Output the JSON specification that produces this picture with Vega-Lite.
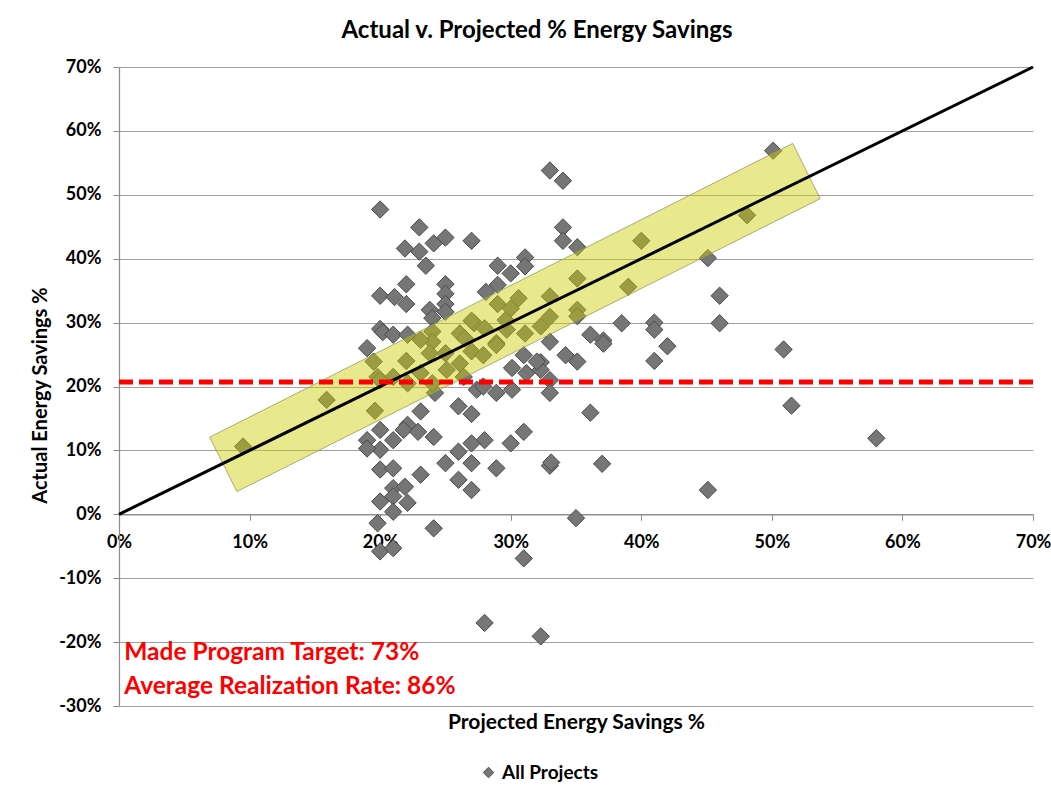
{
  "$schema": "https://vega.github.io/schema/vega-lite/v6.json",
  "width": 914,
  "height": 639,
  "autosize": {"type": "none"},
  "padding": {"left": 119, "top": 67, "right": 18, "bottom": 86},
  "background": "white",
  "config": {"font": "Lato", "view": {"stroke": null}},
  "title": {"text": "Actual v. Projected % Energy Savings", "fontSize": 24, "fontWeight": "bold", "color": "#000000", "dx": -39, "offset": 15, "font": "Lato"},
  "datasets": {
    "projects": [
      {"projected": 33.0, "actual": 53.8, "series": "All Projects"},
      {"projected": 34.0, "actual": 52.2, "series": "All Projects"},
      {"projected": 50.1, "actual": 56.9, "series": "All Projects"},
      {"projected": 48.1, "actual": 46.8, "series": "All Projects"},
      {"projected": 20.0, "actual": 47.7, "series": "All Projects"},
      {"projected": 34.0, "actual": 44.9, "series": "All Projects"},
      {"projected": 34.0, "actual": 42.8, "series": "All Projects"},
      {"projected": 35.1, "actual": 41.8, "series": "All Projects"},
      {"projected": 23.0, "actual": 44.9, "series": "All Projects"},
      {"projected": 21.9, "actual": 41.6, "series": "All Projects"},
      {"projected": 23.0, "actual": 41.1, "series": "All Projects"},
      {"projected": 24.1, "actual": 42.4, "series": "All Projects"},
      {"projected": 25.0, "actual": 43.3, "series": "All Projects"},
      {"projected": 27.0, "actual": 42.8, "series": "All Projects"},
      {"projected": 23.5, "actual": 38.9, "series": "All Projects"},
      {"projected": 29.0, "actual": 38.9, "series": "All Projects"},
      {"projected": 30.0, "actual": 37.7, "series": "All Projects"},
      {"projected": 31.1, "actual": 40.2, "series": "All Projects"},
      {"projected": 31.1, "actual": 38.8, "series": "All Projects"},
      {"projected": 20.0, "actual": 34.2, "series": "All Projects"},
      {"projected": 21.1, "actual": 34.0, "series": "All Projects"},
      {"projected": 22.0, "actual": 36.0, "series": "All Projects"},
      {"projected": 22.0, "actual": 32.9, "series": "All Projects"},
      {"projected": 25.0, "actual": 36.0, "series": "All Projects"},
      {"projected": 25.0, "actual": 34.5, "series": "All Projects"},
      {"projected": 25.0, "actual": 32.9, "series": "All Projects"},
      {"projected": 25.0, "actual": 31.7, "series": "All Projects"},
      {"projected": 23.8, "actual": 32.0, "series": "All Projects"},
      {"projected": 24.0, "actual": 30.7, "series": "All Projects"},
      {"projected": 28.1, "actual": 34.8, "series": "All Projects"},
      {"projected": 29.0, "actual": 35.9, "series": "All Projects"},
      {"projected": 29.0, "actual": 32.9, "series": "All Projects"},
      {"projected": 30.0, "actual": 32.2, "series": "All Projects"},
      {"projected": 33.0, "actual": 34.1, "series": "All Projects"},
      {"projected": 33.0, "actual": 30.9, "series": "All Projects"},
      {"projected": 20.0, "actual": 29.0, "series": "All Projects"},
      {"projected": 20.2, "actual": 28.5, "series": "All Projects"},
      {"projected": 21.0, "actual": 28.1, "series": "All Projects"},
      {"projected": 22.1, "actual": 28.1, "series": "All Projects"},
      {"projected": 24.0, "actual": 28.6, "series": "All Projects"},
      {"projected": 24.0, "actual": 27.0, "series": "All Projects"},
      {"projected": 26.1, "actual": 28.3, "series": "All Projects"},
      {"projected": 27.2, "actual": 29.9, "series": "All Projects"},
      {"projected": 28.0, "actual": 29.1, "series": "All Projects"},
      {"projected": 28.9, "actual": 26.8, "series": "All Projects"},
      {"projected": 31.1, "actual": 28.3, "series": "All Projects"},
      {"projected": 32.3, "actual": 29.4, "series": "All Projects"},
      {"projected": 33.0, "actual": 27.0, "series": "All Projects"},
      {"projected": 23.1, "actual": 27.3, "series": "All Projects"},
      {"projected": 29.7, "actual": 28.9, "series": "All Projects"},
      {"projected": 40.0, "actual": 42.8, "series": "All Projects"},
      {"projected": 45.1, "actual": 40.1, "series": "All Projects"},
      {"projected": 35.1, "actual": 36.9, "series": "All Projects"},
      {"projected": 39.0, "actual": 35.6, "series": "All Projects"},
      {"projected": 35.1, "actual": 32.0, "series": "All Projects"},
      {"projected": 35.1, "actual": 31.0, "series": "All Projects"},
      {"projected": 46.0, "actual": 34.2, "series": "All Projects"},
      {"projected": 46.0, "actual": 29.9, "series": "All Projects"},
      {"projected": 38.5, "actual": 29.9, "series": "All Projects"},
      {"projected": 41.0, "actual": 30.0, "series": "All Projects"},
      {"projected": 41.0, "actual": 28.9, "series": "All Projects"},
      {"projected": 36.1, "actual": 28.1, "series": "All Projects"},
      {"projected": 37.1, "actual": 27.2, "series": "All Projects"},
      {"projected": 37.1, "actual": 26.7, "series": "All Projects"},
      {"projected": 42.0, "actual": 26.3, "series": "All Projects"},
      {"projected": 41.0, "actual": 24.0, "series": "All Projects"},
      {"projected": 34.2, "actual": 24.9, "series": "All Projects"},
      {"projected": 35.1, "actual": 23.9, "series": "All Projects"},
      {"projected": 50.9, "actual": 25.8, "series": "All Projects"},
      {"projected": 33.0, "actual": 21.0, "series": "All Projects"},
      {"projected": 33.0, "actual": 19.0, "series": "All Projects"},
      {"projected": 32.3, "actual": 23.8, "series": "All Projects"},
      {"projected": 32.3, "actual": 22.6, "series": "All Projects"},
      {"projected": 36.1, "actual": 15.9, "series": "All Projects"},
      {"projected": 33.0, "actual": 7.6, "series": "All Projects"},
      {"projected": 33.1, "actual": 8.1, "series": "All Projects"},
      {"projected": 37.0, "actual": 7.9, "series": "All Projects"},
      {"projected": 45.1, "actual": 3.8, "series": "All Projects"},
      {"projected": 35.0, "actual": -0.6, "series": "All Projects"},
      {"projected": 32.3, "actual": -19.1, "series": "All Projects"},
      {"projected": 51.5, "actual": 17.0, "series": "All Projects"},
      {"projected": 58.0, "actual": 11.9, "series": "All Projects"},
      {"projected": 31.0, "actual": 24.9, "series": "All Projects"},
      {"projected": 32.0, "actual": 23.9, "series": "All Projects"},
      {"projected": 30.1, "actual": 22.9, "series": "All Projects"},
      {"projected": 31.2, "actual": 22.1, "series": "All Projects"},
      {"projected": 28.9, "actual": 19.0, "series": "All Projects"},
      {"projected": 30.1, "actual": 19.5, "series": "All Projects"},
      {"projected": 27.4, "actual": 19.5, "series": "All Projects"},
      {"projected": 24.2, "actual": 19.0, "series": "All Projects"},
      {"projected": 26.0, "actual": 16.9, "series": "All Projects"},
      {"projected": 27.0, "actual": 15.7, "series": "All Projects"},
      {"projected": 23.1, "actual": 16.1, "series": "All Projects"},
      {"projected": 19.6, "actual": 16.2, "series": "All Projects"},
      {"projected": 22.1, "actual": 14.0, "series": "All Projects"},
      {"projected": 21.8, "actual": 13.2, "series": "All Projects"},
      {"projected": 20.0, "actual": 13.2, "series": "All Projects"},
      {"projected": 22.9, "actual": 12.9, "series": "All Projects"},
      {"projected": 24.1, "actual": 12.1, "series": "All Projects"},
      {"projected": 21.0, "actual": 11.6, "series": "All Projects"},
      {"projected": 19.0, "actual": 11.6, "series": "All Projects"},
      {"projected": 20.0, "actual": 10.1, "series": "All Projects"},
      {"projected": 19.0, "actual": 10.3, "series": "All Projects"},
      {"projected": 31.0, "actual": 12.9, "series": "All Projects"},
      {"projected": 30.0, "actual": 11.1, "series": "All Projects"},
      {"projected": 28.0, "actual": 11.6, "series": "All Projects"},
      {"projected": 27.0, "actual": 11.1, "series": "All Projects"},
      {"projected": 26.0, "actual": 9.8, "series": "All Projects"},
      {"projected": 25.0, "actual": 8.0, "series": "All Projects"},
      {"projected": 27.0, "actual": 8.0, "series": "All Projects"},
      {"projected": 28.9, "actual": 7.2, "series": "All Projects"},
      {"projected": 20.0, "actual": 7.0, "series": "All Projects"},
      {"projected": 21.0, "actual": 7.2, "series": "All Projects"},
      {"projected": 23.1, "actual": 6.2, "series": "All Projects"},
      {"projected": 26.0, "actual": 5.4, "series": "All Projects"},
      {"projected": 27.0, "actual": 3.8, "series": "All Projects"},
      {"projected": 21.0, "actual": 4.1, "series": "All Projects"},
      {"projected": 21.9, "actual": 4.3, "series": "All Projects"},
      {"projected": 20.0, "actual": 2.0, "series": "All Projects"},
      {"projected": 21.0, "actual": 2.8, "series": "All Projects"},
      {"projected": 22.1, "actual": 1.8, "series": "All Projects"},
      {"projected": 21.0, "actual": 0.4, "series": "All Projects"},
      {"projected": 19.8, "actual": -1.4, "series": "All Projects"},
      {"projected": 24.1, "actual": -2.2, "series": "All Projects"},
      {"projected": 20.0, "actual": -5.8, "series": "All Projects"},
      {"projected": 21.0, "actual": -5.3, "series": "All Projects"},
      {"projected": 31.0, "actual": -6.9, "series": "All Projects"},
      {"projected": 28.0, "actual": -17.0, "series": "All Projects"},
      {"projected": 9.5, "actual": 10.6, "series": "All Projects"},
      {"projected": 15.9, "actual": 17.9, "series": "All Projects"},
      {"projected": 19.5, "actual": 23.9, "series": "All Projects"},
      {"projected": 19.8, "actual": 21.5, "series": "All Projects"},
      {"projected": 19.0, "actual": 26.0, "series": "All Projects"},
      {"projected": 21.0, "actual": 21.5, "series": "All Projects"},
      {"projected": 22.1, "actual": 20.5, "series": "All Projects"},
      {"projected": 23.1, "actual": 22.1, "series": "All Projects"},
      {"projected": 23.8, "actual": 25.2, "series": "All Projects"},
      {"projected": 24.0, "actual": 20.5, "series": "All Projects"},
      {"projected": 25.1, "actual": 22.6, "series": "All Projects"},
      {"projected": 25.0, "actual": 25.2, "series": "All Projects"},
      {"projected": 26.1, "actual": 23.6, "series": "All Projects"},
      {"projected": 27.0, "actual": 25.5, "series": "All Projects"},
      {"projected": 26.4, "actual": 21.5, "series": "All Projects"},
      {"projected": 27.9, "actual": 24.9, "series": "All Projects"},
      {"projected": 28.9, "actual": 26.5, "series": "All Projects"},
      {"projected": 27.9, "actual": 20.0, "series": "All Projects"},
      {"projected": 20.0, "actual": 21.0, "series": "All Projects"},
      {"projected": 29.6, "actual": 30.4, "series": "All Projects"},
      {"projected": 30.6, "actual": 33.8, "series": "All Projects"},
      {"projected": 22.0, "actual": 24.0, "series": "All Projects"},
      {"projected": 26.5, "actual": 27.5, "series": "All Projects"},
      {"projected": 27.0, "actual": 30.3, "series": "All Projects"}
    ],
    "band": [
      {"o": 1, "projected": 6.94, "actual": 12.07},
      {"o": 2, "projected": 51.6, "actual": 58.05},
      {"o": 3, "projected": 53.7, "actual": 49.4},
      {"o": 4, "projected": 9.03, "actual": 3.57},
      {"o": 5, "projected": 6.94, "actual": 12.07}
    ],
    "diag": [
      {"projected": 0, "actual": 0},
      {"projected": 70, "actual": 70}
    ]
  },
  "layer": [
    {
      "data": {"name": "projects"},
      "mark": {"type": "point", "shape": "diamond", "filled": true, "size": 300, "stroke": "#4a4a4a", "strokeWidth": 1, "opacity": 1},
      "encoding": {
        "x": {
          "field": "projected", "type": "quantitative",
          "scale": {"domain": [0, 70], "nice": false, "zero": false},
          "axis": {
            "title": "Projected Energy Savings %",
            "values": [0, 10, 20, 30, 40, 50, 60, 70],
            "labelExpr": "datum.value + '%'",
            "grid": false, "offset": -191.7,
            "domainColor": "#8c8c8c", "domainWidth": 1.2,
            "tickColor": "#8c8c8c", "tickSize": 6,
            "labelFontSize": 18, "labelFontWeight": "bold", "labelColor": "#000000", "labelPadding": 13, "labelFlush": false,
            "titleFontSize": 21, "titleFontWeight": "bold", "titleColor": "#000000",
            "titleY": 208, "titleBaseline": "middle"
          }
        },
        "y": {
          "field": "actual", "type": "quantitative",
          "scale": {"domain": [-30, 70], "nice": false, "zero": false},
          "axis": {
            "title": "Actual Energy Savings %",
            "values": [-30, -20, -10, 0, 10, 20, 30, 40, 50, 60, 70],
            "labelExpr": "datum.value + '%'",
            "grid": true, "gridColor": "#a0a0a0", "gridWidth": 1.2,
            "domainColor": "#8c8c8c", "domainWidth": 1.2,
            "tickColor": "#8c8c8c", "tickSize": 6,
            "labelFontSize": 18, "labelFontWeight": "bold", "labelColor": "#000000", "labelPadding": 12,
            "titleFontSize": 20, "titleFontWeight": "bold", "titleColor": "#000000",
            "titleX": -79, "titleY": 328, "titleBaseline": "middle"
          }
        },
        "color": {
          "field": "series", "type": "nominal",
          "scale": {"range": ["#767676"]},
          "legend": {
            "title": null, "orient": "none", "legendX": 360, "legendY": 696,
            "symbolType": "diamond", "symbolSize": 110, "symbolStrokeColor": "#4a4a4a", "symbolStrokeWidth": 1,
            "labelFontSize": 19, "labelFontWeight": "bold", "labelColor": "#000000", "labelOffset": 4, "padding": 0
          }
        }
      }
    },
    {
      "data": {"name": "band"},
      "mark": {"type": "line", "fill": "#cccc00", "fillOpacity": 0.45, "stroke": "#9a9a60", "strokeWidth": 1, "strokeOpacity": 0.8},
      "encoding": {
        "x": {"field": "projected", "type": "quantitative"},
        "y": {"field": "actual", "type": "quantitative"},
        "order": {"field": "o", "type": "quantitative"}
      }
    },
    {
      "data": {"name": "diag"},
      "mark": {"type": "line", "color": "#000000", "strokeWidth": 3},
      "encoding": {
        "x": {"field": "projected", "type": "quantitative"},
        "y": {"field": "actual", "type": "quantitative"}
      }
    },
    {
      "data": {"values": [{}]},
      "mark": {"type": "rule", "color": "#ff0000", "strokeWidth": 5, "strokeDash": [14, 6]},
      "encoding": {"y": {"datum": 20.7, "type": "quantitative"}}
    },
    {
      "data": {"values": [{}]},
      "mark": {"type": "text", "text": "Made Program Target: 73%", "align": "left", "baseline": "middle", "fontSize": 24.5, "fontWeight": "bold", "color": "#ff0000"},
      "encoding": {"x": {"datum": 0.4, "type": "quantitative"}, "y": {"datum": -21.7, "type": "quantitative"}}
    },
    {
      "data": {"values": [{}]},
      "mark": {"type": "text", "text": "Average Realization Rate: 86%", "align": "left", "baseline": "middle", "fontSize": 24.5, "fontWeight": "bold", "color": "#ff0000"},
      "encoding": {"x": {"datum": 0.4, "type": "quantitative"}, "y": {"datum": -27.0, "type": "quantitative"}}
    }
  ]
}
